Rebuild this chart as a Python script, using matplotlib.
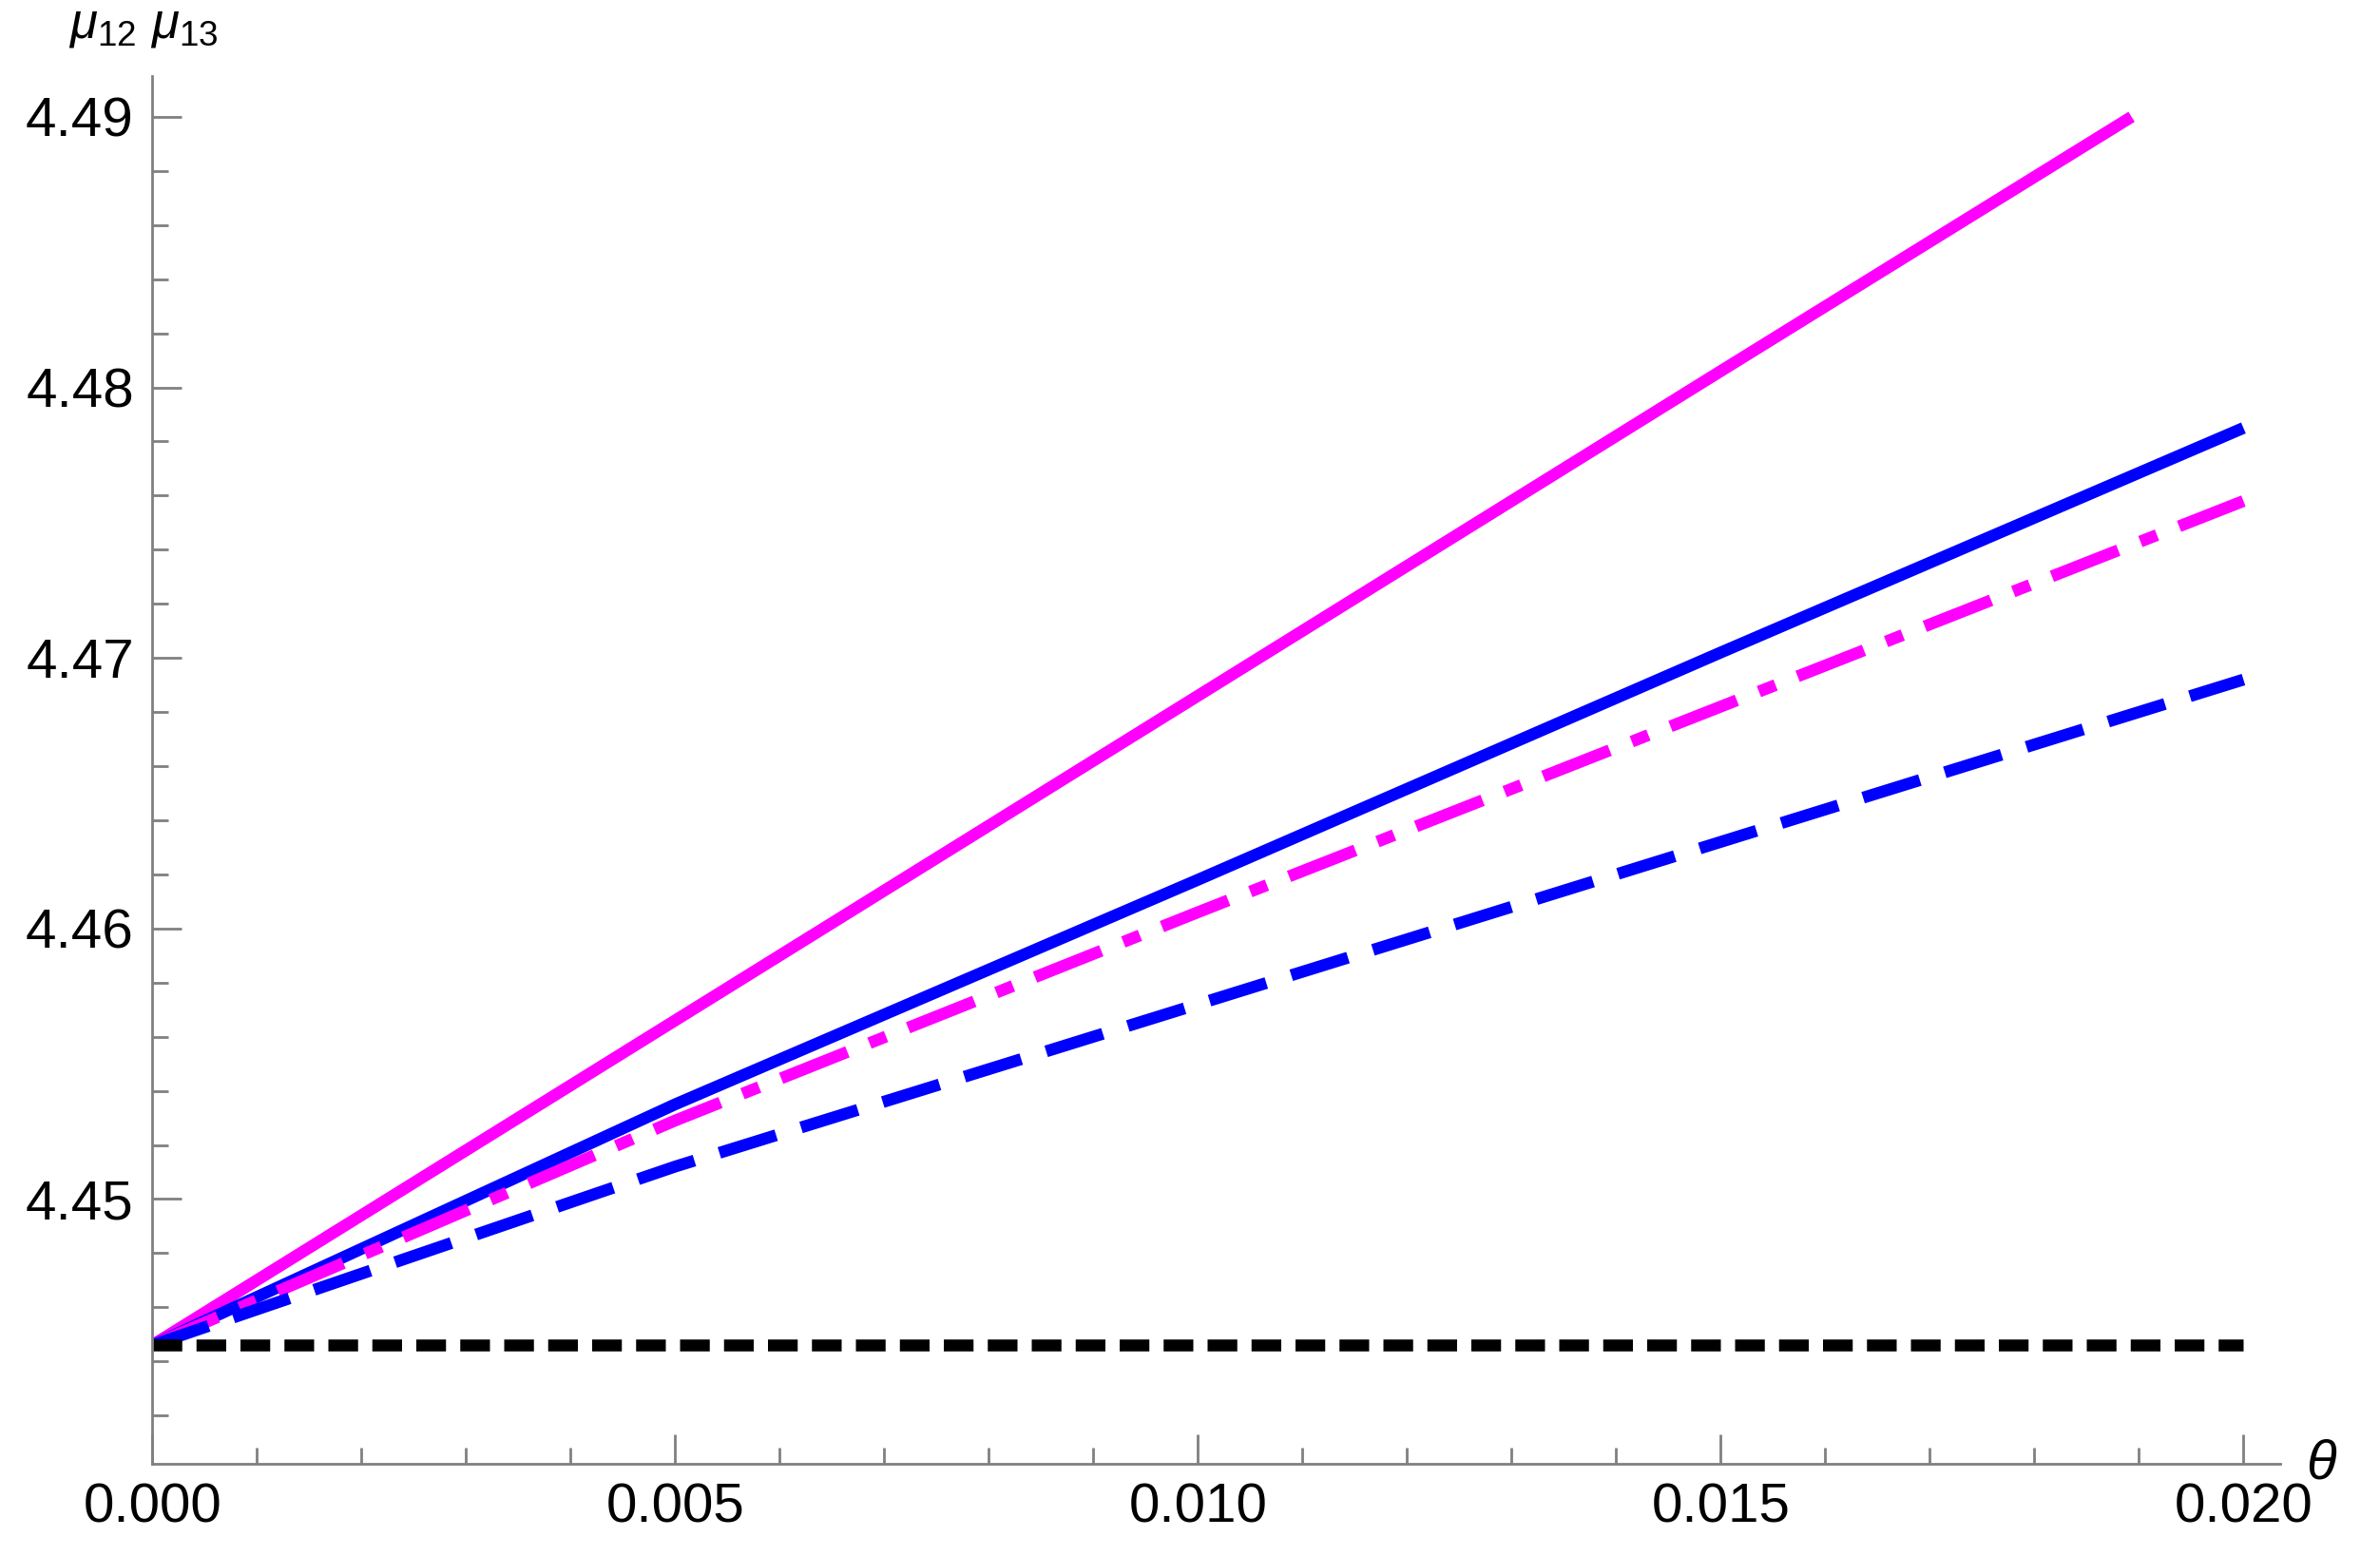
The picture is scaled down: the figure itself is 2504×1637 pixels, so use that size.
import matplotlib
matplotlib.use("Agg")
import matplotlib.pyplot as plt
from matplotlib.ticker import MultipleLocator, FormatStrFormatter

# values
theta = [0.0, 0.005, 0.010, 0.015, 0.020]
theta_mag = [0.0, 0.005, 0.010, 0.015, 0.01893]
mag_solid = [4.4446, 4.4566, 4.4686, 4.4806, 4.4900]
blue_solid = [4.4446, 4.4535, 4.4618, 4.4702, 4.4785]
mag_dashdot = [4.4446, 4.4529, 4.4606, 4.4682, 4.4758]
blue_dashed = [4.4446, 4.4512, 4.4572, 4.4632, 4.4692]
black_dashed = [4.4446, 4.4446, 4.4446, 4.4446, 4.4446]

plt.rcParams['font.family'] = ['Liberation Sans', 'DejaVu Sans']
plt.rcParams['mathtext.fontset'] = 'custom'
plt.rcParams['mathtext.it'] = 'Liberation Sans:italic'
plt.rcParams['mathtext.rm'] = 'Liberation Sans'

fig = plt.figure(figsize=(25.04, 16.37), dpi=100)
ax = fig.add_axes([0.064, 0.059, 0.894, 0.892])

lw = 9
ax.plot(theta_mag, mag_solid, color="#ff00ff", lw=lw, solid_capstyle="butt")
ax.plot(theta, blue_solid, color="#0000ff", lw=lw, solid_capstyle="butt")
ax.plot(theta, mag_dashdot, color="#ff00ff", lw=lw, dashes=(6, 2, 1.5, 2))
ax.plot(theta, blue_dashed, color="#0000ff", lw=lw, dashes=(5, 2.2))
ax.plot(theta, black_dashed, color="black", lw=lw, dashes=(2.5, 1.2))

ax.set_xlim(0, 0.02035)
ax.set_ylim(4.4402, 4.4915)
for s in ["top", "right"]:
    ax.spines[s].set_visible(False)
for s in ["left", "bottom"]:
    ax.spines[s].set_color("#808080")
    ax.spines[s].set_linewidth(2)

ax.xaxis.set_major_locator(MultipleLocator(0.005))
ax.xaxis.set_minor_locator(MultipleLocator(0.001))
ax.yaxis.set_major_locator(MultipleLocator(0.01))
ax.yaxis.set_minor_locator(MultipleLocator(0.002))
ax.xaxis.set_major_formatter(FormatStrFormatter("%.3f"))
ax.yaxis.set_major_formatter(FormatStrFormatter("%.2f"))
ax.tick_params(which="major", direction="in", length=22, width=2, color="#808080", labelsize=42, pad=14)
ax.tick_params(which="minor", direction="in", length=12, width=2, color="#808080")

ax.text(-0.0008, 4.4925, r"$\mu_{12}\ \mu_{13}$", fontsize=38, ha="left", va="bottom", clip_on=False)
ax.text(0.0206, 4.4402, r"$\theta$", fontsize=42, ha="left", va="center", clip_on=False)

fig.savefig("out.png", dpi=100)
